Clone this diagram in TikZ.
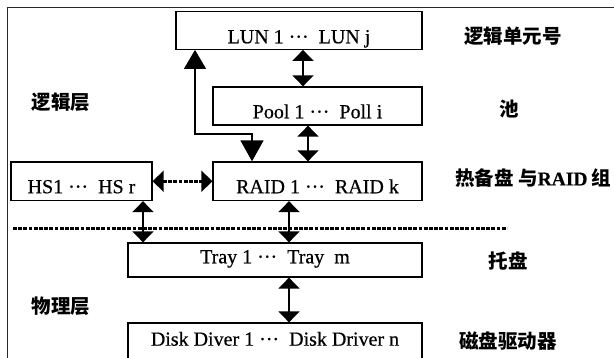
\documentclass[tikz,border=0pt]{standalone}
\usepackage{fontspec}
\setmainfont{Liberation Serif}
\newfontfamily\boxfont{Liberation Serif}[FakeBold=0.5]
\newfontfamily\cjk{Noto Sans CJK SC}
\usetikzlibrary{arrows.meta}
\begin{document}
\begin{tikzpicture}[x=1pt,y=-1pt,
  box/.style={draw, line width=1.3pt, inner sep=0pt, text depth=0pt,
    font=\boxfont\fontsize{20}{20}\selectfont},
  lab/.style={font=\cjk\bfseries\fontsize{19.5}{20}\selectfont, inner sep=0pt},
  dbl/.style={line width=1.4pt,
    {Triangle[length=11pt,width=21pt]}-{Triangle[length=11pt,width=21pt]}},
  big/.style={line width=1.4pt,
    {Triangle[length=19pt,width=22pt]}-{Triangle[length=21pt,width=23pt]}},
  dots/.style={line width=3pt, dash pattern=on 3.8pt off 1.4pt}]
\useasboundingbox (0,0) rectangle (614,358);
\clip (0,0) rectangle (614,358);
\fill[white] (0,0) rectangle (614,358);

% frame
\draw[line width=1pt, black!85] (7,358) -- (7,8) -- (614,8);

% boxes
\node[box, minimum width=246pt, minimum height=37.5pt, text height=25.6pt] (lun) at (299,30.5) {LUN 1 ···\ \ LUN j};
\node[box, minimum width=209pt, minimum height=38pt, text height=24.6pt] (pool) at (317.5,106) {Pool 1 ···\ \ Poll i};
\node[box, minimum width=209pt, minimum height=38.5pt, text height=24pt] (raid) at (317.5,181.25) {RAID 1 ···\ \ RAID k};
\node[box, minimum width=141pt, minimum height=38.5pt, text height=24pt] (hs) at (81.5,181.25) {HS1 ···\ \ HS r};
\node[box, minimum width=294pt, minimum height=34pt, text height=6.6pt] (tray) at (275,260) {Tray 1 ···\ \ Tray\ \ m};
\node[box, minimum width=294pt, minimum height=39pt, text height=6.4pt] (disk) at (275,342.5) {Disk Diver 1 ···\ \ Disk Driver n};

% labels
\node[lab] (l1) at (513,36) {逻辑单元号};
\node[lab] (l2) at (509,109) {池};
\node[lab, anchor=west] (l3) at (455,178) {热备盘 与{\boxfont\bfseries RAID} 组};
\node[lab] (l4) at (508,261) {托盘};
\node[lab] (l5) at (508,341) {磁盘驱动器};
\node[lab] (l6) at (61,102) {逻辑层};
\node[lab] (l7) at (61,306) {物理层};

% separator
\coordinate (d1) at (13,229);
\coordinate (d2) at (507,229);
\draw[dots] (d1) -- (d2);

% helper coordinates
\coordinate (xa) at (143,0);
\coordinate (xb) at (289,0);
\coordinate (xc) at (303,0);
\coordinate (xd) at (308,0);
\coordinate (xe) at (195,0);
\coordinate (xf) at (252,0);
\coordinate (ya) at (0,134);

% connectors
\draw[dbl] (lun.south -| xc) -- (pool.north -| xc);
\draw[dbl] (pool.south -| xd) -- (raid.north -| xd);
\draw[big] (lun.south -| xe) |- (ya -| xf) -- (raid.north -| xf);
\draw[dbl, dots] (hs.east) -- (raid.west);
\draw[dbl] (hs.south -| xa) -- (tray.north -| xa);
\draw[dbl] (raid.south -| xb) -- (tray.north -| xb);
\draw[dbl] (tray.south -| xb) -- (disk.north -| xb);
\end{tikzpicture}
\end{document}
